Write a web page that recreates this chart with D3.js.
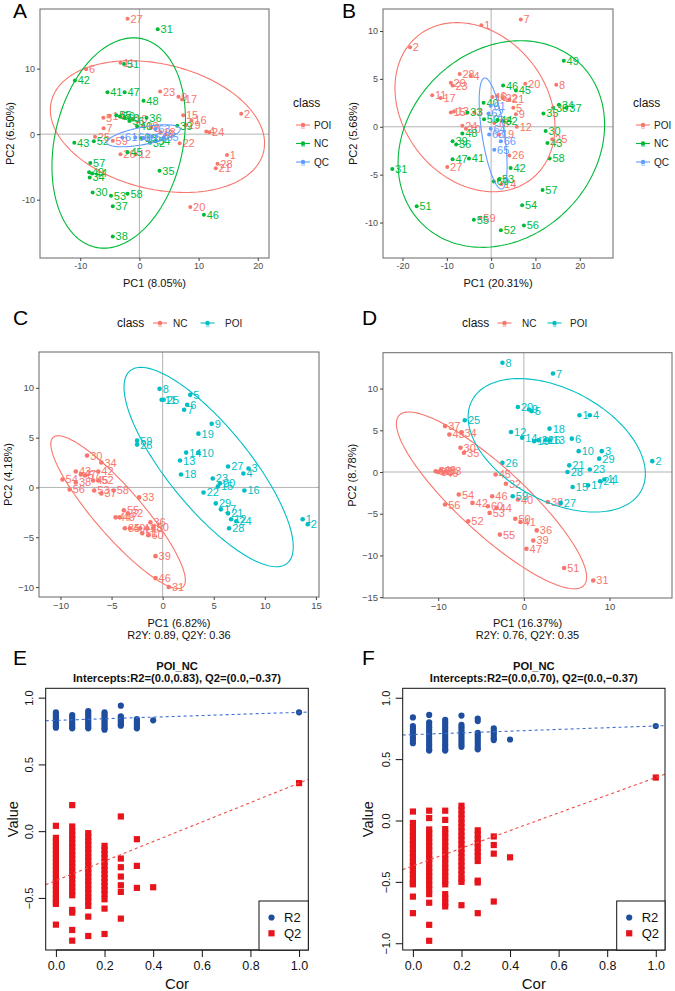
<!DOCTYPE html>
<html><head><meta charset="utf-8">
<script src="https://cdn.jsdelivr.net/npm/d3@7"></script>
<style>body{margin:0;background:#fff}svg text{font-family:"Liberation Sans",Arial,Helvetica,sans-serif}</style>
</head><body><svg id="c" width="675" height="991"></svg>
<script>
// ---------- Panel A (PCA, 3 classes) ----------
const aPOI=[["1",14.8,-3.2],["2",17.2,3.1],["3",2.0,1.0],["4",11.3,0.4],["5",-6.1,2.5],["6",-9.0,9.9],["7",-6.05,0.9],["8",4.4,0.0],["9",6.6,5.7],["10",-1.2,2.3],["11",-3.2,10.9],["12",-0.6,-3.05],["14",-5.0,2.8],["15",7.4,2.9],["16",8.8,2.1],["17",7.2,5.3],["18",3.6,0.3],["19",0.7,1.2],["20",8.6,-11.1],["21",12.9,-5.2],["22",6.8,-1.4],["23",3.5,6.5],["24",11.8,0.3],["25",-7.5,-0.4],["26",-3.2,-3.05],["27",-2.0,17.6],["28",13.2,-4.5],["29",7.8,1.4],["59",-4.5,-1.0]];
const aNC=[["31",3.1,16.0],["42",-10.9,8.2],["51",-2.6,10.7],["41",-5.4,6.4],["47",-2.5,6.4],["48",0.7,5.1],["55",-3.9,2.9],["50",-3.3,2.7],["60",-2.5,2.5],["56",-1.7,2.0],["40",-0.4,1.2],["36",1.2,2.5],["39",6.4,1.3],["43",-11.0,-1.3],["52",-7.7,-1.1],["33",0.4,-0.6],["32",1.8,-1.3],["54",2.7,-1.1],["45",-2.0,-2.75],["35",3.4,-5.6],["57",-8.3,-4.4],["34",-8.4,-6.6],["44",-8.0,-6.0],["49",-8.5,-5.8],["30",-7.9,-8.9],["53",-4.8,-9.4],["58",-2.0,-9.1],["37",-4.5,-11.0],["38",-4.5,-15.6],["46",10.9,-12.3]];
const aQC=[["61",-2.9,-0.5],["66",-0.7,-0.5],["62",0.7,-0.6],["63",2.7,0.8],["64",2.15,-0.4],["65",4.1,-0.5]];
const aXTicks=[-10,0,10,20], aYTicks=[-10,0,10];
// ellipse: centre, two conjugate semi-axes (data units)
const aEllPOI=[[3.05,1.15],[18.1,-2.55],[0,9.72]];
const aEllNC=[[-3.5,-1.35],[2.5,16.05],[11.0,0]];
const aEllQC=[[0.7,-0.25],[6.2,1.0],[0,1.35]];

// ---------- Panel B ----------
const bPOI=[["1",-2.2,10.6],["2",-18.3,8.3],["3",-3.8,1.5],["4",-4.6,5.3],["5",5.0,2.0],["6",1.4,3.2],["7",6.7,11.2],["8",14.7,4.4],["9",5.6,1.3],["10",-5.7,-0.2],["11",-13.3,3.3],["12",5.8,0.0],["13",-8.4,1.6],["14",2.3,-6.0],["15",-9.1,1.5],["16",0.3,3.1],["17",-11.4,3.0],["18",0.7,0.4],["19",1.8,-0.8],["20",7.7,4.5],["21",4.1,2.85],["22",2.6,3.0],["23",-8.7,4.3],["24",-6.5,0.1],["25",13.8,-1.3],["26",4.1,-3.0],["27",-9.9,-4.2],["28",-7.1,5.5],["29",-9.1,4.6],["59",-2.4,-9.5]];
const bNC=[["30",12.3,-0.45],["31",-22.3,-4.4],["32",2.6,0.6],["33",-5.35,1.5],["34",15.3,2.3],["35",11.8,1.4],["36",-7.9,-1.85],["37",17.0,2.0],["38",14.0,2.0],["39",-8.7,-1.5],["40",-1.7,2.5],["41",-5.0,-3.3],["42",4.4,-4.3],["43",12.7,-1.7],["44",1.4,0.7],["45",5.6,3.8],["46",2.7,4.3],["47",-8.7,-3.4],["48",-6.5,-0.7],["49",16.4,6.9],["50",-1.6,0.8],["51",-16.8,-8.3],["52",2.2,-10.8],["53",1.8,-5.5],["54",7.0,-8.2],["55",-3.9,-9.7],["56",7.4,-10.3],["57",11.6,-6.6],["58",13.2,-3.3],["60",0.6,-5.7]];
const bQC=[["61",-0.1,2.2],["62",-0.6,1.4],["63",-0.45,-0.8],["64",-0.1,-0.2],["65",0.7,-2.4],["66",2.2,-1.5]];
const bXTicks=[-20,-10,0,10,20], bYTicks=[-10,-5,0,5,10];
const bEllPOI=[[-3.65,2.05],[18.05,-2.0],[0,8.6]];
const bEllNC=[[2.3,-1.8],[23.3,2.0],[0,10.6]];
const bEllQC=[[0.45,-0.7],[-1.85,5.8],[2.55,0]];

// ---------- Panel C (PLS-DA) ----------
const cNC=[["30",-7.4,3.2],["34",-6.0,2.5],["43",-8.5,1.6],["47",-8.0,1.3],["42",-6.3,1.6],["54",-9.8,0.8],["57",-7.6,1.2],["38",-8.5,0.5],["56",-9.1,-0.2],["45",-6.8,0.7],["52",-6.3,0.7],["53",-6.7,-0.3],["37",-6.0,-0.6],["58",-4.8,-0.3],["33",-2.3,-1.0],["55",-3.8,-2.3],["32",-3.4,-2.6],["49",-4.2,-3.0],["44",-4.6,-3.0],["36",-1.2,-3.5],["35",-3.7,-4.1],["40",-3.2,-4.1],["41",-2.2,-4.1],["48",-1.5,-4.1],["50",-0.9,-4.0],["51",-2.0,-4.6],["60",-1.4,-4.8],["39",-0.7,-6.9],["46",-0.7,-9.1],["31",0.6,-10.0]];
const cPOI=[["1",13.7,-3.2],["2",14.2,-3.7],["3",8.4,1.9],["4",7.9,1.4],["5",2.7,9.3],["6",2.4,8.3],["7",2.1,7.8],["8",-0.3,9.9],["9",4.8,6.4],["10",3.5,3.5],["11",-0.1,8.8],["12",6.7,-3.2],["13",1.7,2.7],["14",2.3,3.5],["15",5.4,0.1],["16",8.0,-0.3],["17",5.7,-2.2],["18",1.8,1.3],["19",3.5,5.4],["20",5.6,0.4],["21",6.4,-2.6],["22",4.0,-0.5],["23",4.9,0.9],["24",7.2,-3.4],["25",0.1,8.8],["26",-2.5,4.3],["27",6.4,2.1],["28",6.5,-4.1],["29",5.2,-1.6],["59",-2.5,4.7]];
const cXTicks=[-10,-5,0,5,10,15], cYTicks=[-10,-5,0,5,10];
const cEllNC=[[-4.36,-2.48],[6.58,-6.83],[0,3.49]];
const cEllPOI=[[4.5,2.05],[8.28,-8.01],[0,6.0]];

// ---------- Panel D ----------
const dNC=[["37",-9.2,5.5],["43",-8.7,4.5],["34",-7.3,4.7],["30",-7.4,2.9],["35",-7.0,2.3],["57",-10.3,0.1],["58",-10.0,0.0],["48",-9.7,0.2],["49",-9.4,-0.1],["33",-9.1,0.1],["45",-3.3,-0.3],["32",-2.1,-1.4],["54",-7.6,-2.7],["46",-3.7,-2.9],["56",-9.2,-3.9],["42",-6.0,-3.7],["60",-4.2,-4.1],["44",-3.2,-4.3],["53",-4.0,-4.9],["40",-0.7,-3.3],["38",2.8,-3.6],["52",-6.5,-5.9],["50",-1.0,-5.6],["41",-0.4,-6.0],["55",-2.8,-7.5],["36",1.5,-7.0],["39",1.1,-8.2],["47",0.3,-9.2],["51",4.7,-11.5],["31",8.1,-13.0]];
const dPOI=[["8",-2.5,13.1],["7",3.4,11.8],["20",-0.7,7.8],["9",0.6,7.5],["5",0.9,7.3],["1",6.5,6.8],["4",7.7,6.8],["25",-6.9,6.2],["18",3.0,5.2],["12",-1.5,4.8],["6",5.6,4.0],["14",-0.2,4.1],["19",1.2,3.7],["22",1.7,3.8],["16",2.5,3.8],["13",3.0,3.8],["10",6.4,2.5],["3",9.1,2.5],["29",8.8,1.6],["2",15.0,1.3],["26",-2.5,1.1],["21",5.3,0.8],["28",5.1,0.0],["23",7.7,0.3],["15",5.7,-1.8],["17",7.5,-1.6],["24",8.9,-1.1],["11",9.4,-0.9],["59",-1.3,-2.9],["27",4.3,-3.7]];
const dXTicks=[-10,0,10], dYTicks=[-15,-10,-5,0,5,10];
const dEllNC=[[-3.78,-3.4],[11.11,-9.2],[0,5.26]];
const dEllPOI=[[3.84,3.2],[10.35,-3.4],[0,7.24]];

// ---------- Panels E, F (permutation tests) ----------
const permCor=[0,0.067,0.133,0.2,0.267,0.333,0.4,1.0];
const eR2=[[0.89,0.875,0.86,0.845,0.83,0.815,0.80,0.785,0.775],[0.87,0.855,0.84,0.825,0.81,0.795,0.78,0.77],[0.90,0.885,0.87,0.855,0.84,0.825,0.81,0.795,0.78,0.77],[0.89,0.875,0.86,0.845,0.83,0.815,0.80,0.785,0.77,0.76],[0.94,0.86,0.845,0.83,0.815,0.80,0.79],[0.84,0.825,0.81,0.795,0.78,0.77],[0.83],[0.89]];
const eQ2=[[0.04,-0.05,-0.08,-0.11,-0.14,-0.17,-0.20,-0.23,-0.26,-0.29,-0.32,-0.35,-0.38,-0.41,-0.44,-0.47,-0.50,-0.53,-0.545,-0.70],[0.195,0.035,0.0,-0.03,-0.06,-0.09,-0.12,-0.15,-0.18,-0.21,-0.24,-0.27,-0.30,-0.33,-0.36,-0.39,-0.42,-0.45,-0.48,-0.59,-0.61,-0.74,-0.82],[-0.015,-0.045,-0.075,-0.105,-0.135,-0.165,-0.195,-0.225,-0.255,-0.285,-0.315,-0.345,-0.375,-0.405,-0.435,-0.465,-0.495,-0.525,-0.56,-0.64,-0.785],[-0.11,-0.14,-0.17,-0.20,-0.23,-0.26,-0.29,-0.32,-0.35,-0.38,-0.41,-0.44,-0.47,-0.51,-0.58,-0.77],[0.11,-0.205,-0.27,-0.34,-0.405,-0.455,-0.655],[-0.06,-0.26,-0.425],[-0.42],[0.36]];
const eFitR2=[0.83,0.06], eFitQ2=[-0.37,0.73];
const fR2=[[0.84,0.77,0.75,0.73,0.71,0.69,0.67,0.65,0.63],[0.86,0.80,0.78,0.76,0.74,0.72,0.70,0.68,0.66,0.64,0.62,0.60,0.58,0.57],[0.82,0.80,0.78,0.76,0.74,0.72,0.70,0.68,0.66,0.64,0.62,0.60,0.58,0.57],[0.855,0.78,0.76,0.74,0.72,0.70,0.68,0.66,0.64,0.62,0.60],[0.83,0.81,0.715,0.695,0.675,0.655,0.635,0.615,0.595,0.58],[0.75,0.73,0.71,0.69,0.67,0.655],[0.66],[0.77]];
const fQ2=[[0.073,-0.02,-0.055,-0.09,-0.125,-0.16,-0.195,-0.23,-0.265,-0.30,-0.335,-0.37,-0.405,-0.44,-0.475,-0.51,-0.52,-0.62,-0.755],[0.08,0.02,-0.073,-0.105,-0.14,-0.175,-0.21,-0.245,-0.28,-0.315,-0.35,-0.385,-0.42,-0.455,-0.49,-0.525,-0.56,-0.60,-0.67,-0.85,-0.98],[0.08,0.005,-0.07,-0.105,-0.14,-0.175,-0.21,-0.245,-0.28,-0.315,-0.35,-0.385,-0.42,-0.455,-0.49,-0.52,-0.60,-0.635,-0.67,-0.70],[0.12,0.085,0.05,0.015,-0.02,-0.055,-0.09,-0.125,-0.16,-0.195,-0.23,-0.265,-0.30,-0.335,-0.37,-0.405,-0.44,-0.475,-0.50,-0.69],[-0.08,-0.115,-0.15,-0.185,-0.22,-0.255,-0.29,-0.33,-0.49,-0.505,-0.755],[-0.13,-0.20,-0.27,-0.66],[-0.30],[0.35]];
const fFitR2=[0.70,0.07], fFitQ2=[-0.37,0.72];
const permXTicks=[0,0.2,0.4,0.6,0.8,1.0];
const eYTicks=[-0.5,0,0.5,1.0], fYTicks=[-1.0,-0.5,0,0.5,1.0];

// ---------- colours ----------
const RED="#F8766D", GRN="#00BA38", BLU="#619CFF", TEAL="#00BFC4";
const R2COL="#1F4E9F", Q2COL="#E8141B", R2LINE="#3F6FD0", Q2LINE="#F04A44";

const svg=d3.select("#c");
let clipId=0;

function fmtTick(minus){return d=>{let s=String(d);return minus? s.replace("-","\u2212"):s;};}

function pca(cfg){
  const [x0,y0,x1,y1]=cfg.rect;
  const x=d3.scaleLinear().domain(cfg.xd).range([x0,x1]);
  const y=d3.scaleLinear().domain(cfg.yd).range([y1,y0]);
  const g=svg.append("g");
  const id="clip"+(clipId++);
  g.append("clipPath").attr("id",id).append("rect").attr("x",x0).attr("y",y0).attr("width",x1-x0).attr("height",y1-y0);
  const p=g.append("g").attr("clip-path",`url(#${id})`);
  p.append("line").attr("x1",x(0)).attr("x2",x(0)).attr("y1",y0).attr("y2",y1).attr("stroke","#b3b3b3").attr("stroke-width",1);
  p.append("line").attr("y1",y(0)).attr("y2",y(0)).attr("x1",x0).attr("x2",x1).attr("stroke","#b3b3b3").attr("stroke-width",1);
  cfg.groups.forEach(gr=>{
    p.selectAll(null).data(gr.data).enter().append("circle")
      .attr("cx",d=>x(d[1])).attr("cy",d=>y(d[2])).attr("r",cfg.r).attr("fill",gr.color);
    p.selectAll(null).data(gr.data).enter().append("text")
      .attr("x",d=>x(d[1])+cfg.r+0.8).attr("y",d=>y(d[2])).attr("dy","0.36em")
      .attr("font-size",cfg.lab).attr("fill",gr.color).text(d=>d[0]);
  });
  const line=d3.line().x(d=>x(d[0])).y(d=>y(d[1])).curve(d3.curveLinearClosed);
  cfg.ellipses.forEach(e=>{
    const [c,u,v]=e.p;
    const pts=d3.range(0,2*Math.PI,Math.PI/90).map(t=>[c[0]+u[0]*Math.cos(t)+v[0]*Math.sin(t),c[1]+u[1]*Math.cos(t)+v[1]*Math.sin(t)]);
    p.append("path").attr("d",line(pts)).attr("fill","none").attr("stroke",e.color).attr("stroke-width",1.1);
  });
  g.append("rect").attr("x",x0).attr("y",y0).attr("width",x1-x0).attr("height",y1-y0).attr("fill","none").attr("stroke","#666").attr("stroke-width",1);
  const ax=g.append("g").attr("transform",`translate(0,${y1})`).call(d3.axisBottom(x).tickValues(cfg.xt).tickSize(3).tickPadding(2).tickFormat(fmtTick(cfg.minus)));
  const ay=g.append("g").attr("transform",`translate(${x0},0)`).call(d3.axisLeft(y).tickValues(cfg.yt).tickSize(3).tickPadding(2).tickFormat(fmtTick(cfg.minus)));
  [ax,ay].forEach(a=>{a.select(".domain").remove();a.selectAll("line").attr("stroke","#444");a.selectAll("text").attr("fill","#4d4d4d").attr("font-size",cfg.tick).attr("font-family","Liberation Sans, Arial, sans-serif");});
  // titles
  g.append("text").attr("x",(x0+x1)/2).attr("y",cfg.xtY).attr("text-anchor","middle").attr("font-size",11).attr("fill","#111").text(cfg.xt1);
  if(cfg.xt2) g.append("text").attr("x",(x0+x1)/2).attr("y",cfg.xtY+12).attr("text-anchor","middle").attr("font-size",11).attr("fill","#111").text(cfg.xt2);
  g.append("text").attr("transform",`translate(${cfg.ytX},${(y0+y1)/2}) rotate(-90)`).attr("text-anchor","middle").attr("font-size",11).attr("fill","#111").text(cfg.yt1);
}

function legendKey(x,y,color){
  svg.append("line").attr("x1",x-7).attr("x2",x+7).attr("y1",y).attr("y2",y).attr("stroke",color).attr("stroke-width",1.1);
  svg.append("circle").attr("cx",x).attr("cy",y).attr("r",2.2).attr("fill",color);
  svg.append("text").attr("x",x).attr("y",y+3.5).attr("text-anchor","middle").attr("font-size",7).attr("fill",color).attr("opacity",0.7).text("a");
}
function vLegend(x,yTop,items){
  svg.append("text").attr("x",x).attr("y",yTop).attr("font-size",12).attr("fill","#111").text("class");
  items.forEach((it,i)=>{const yy=yTop+18+i*18.5;legendKey(x+10,yy,it[1]);
    svg.append("text").attr("x",x+21).attr("y",yy).attr("dy","0.36em").attr("font-size",10).attr("fill","#222").text(it[0]);});
}
function hLegend(x,y,items,offs){
  svg.append("text").attr("x",x).attr("y",y+4).attr("font-size",12).attr("fill","#111").text("class");
  items.forEach((it,i)=>{legendKey(offs[i][0],y,it[1]);
    svg.append("text").attr("x",offs[i][1]).attr("y",y).attr("dy","0.36em").attr("font-size",10).attr("fill","#222").text(it[0]);});
}

// Panel A
pca({rect:[40,9,269,258],xd:[-16.8,21.9],yd:[-18.9,19.1],xt:aXTicks,yt:aYTicks,r:2,lab:11,tick:9,minus:false,
  groups:[{data:aPOI,color:RED},{data:aNC,color:GRN},{data:aQC,color:BLU}],
  ellipses:[{p:aEllPOI,color:RED},{p:aEllNC,color:GRN},{p:aEllQC,color:BLU}],
  xtY:287,xt1:"PC1 (8.05%)",ytX:14,yt1:"PC2 (6.50%)"});
vLegend(293,107,[["POI",RED],["NC",GRN],["QC",BLU]]);
// Panel B
pca({rect:[383,9,613,258],xd:[-24.4,27.5],yd:[-13.7,12.3],xt:bXTicks,yt:bYTicks,r:2,lab:11,tick:9,minus:false,
  groups:[{data:bPOI,color:RED},{data:bNC,color:GRN},{data:bQC,color:BLU}],
  ellipses:[{p:bEllPOI,color:RED},{p:bEllNC,color:GRN},{p:bEllQC,color:BLU}],
  xtY:287,xt1:"PC1 (20.31%)",ytX:357,yt1:"PC2 (5.68%)"});
vLegend(633,107,[["POI",RED],["NC",GRN],["QC",BLU]]);
// Panel C
pca({rect:[39,352,319,597],xd:[-12.1,15.3],yd:[-11.0,13.6],xt:cXTicks,yt:cYTicks,r:2.3,lab:11,tick:9.5,minus:true,
  groups:[{data:cNC,color:RED},{data:cPOI,color:TEAL}],
  ellipses:[{p:cEllNC,color:RED},{p:cEllPOI,color:TEAL}],
  xtY:627,xt1:"PC1 (6.82%)",xt2:"R2Y: 0.89, Q2Y: 0.36",ytX:12,yt1:"PC2 (4.18%)"});
hLegend(117,323,[["NC",RED],["POI",TEAL]],[[160,173],[207.5,225]]);
// Panel D
pca({rect:[383,352.7,672,598],xd:[-16.45,17.3],yd:[-15.1,14.3],xt:dXTicks,yt:dYTicks,r:2.3,lab:11,tick:9.5,minus:true,
  groups:[{data:dNC,color:RED},{data:dPOI,color:TEAL}],
  ellipses:[{p:dEllNC,color:RED},{p:dEllPOI,color:TEAL}],
  xtY:627,xt1:"PC1 (16.37%)",xt2:"R2Y: 0.76, Q2Y: 0.35",ytX:356,yt1:"PC2 (8.78%)"});
hLegend(462,323,[["NC",RED],["POI",TEAL]],[[504.5,522],[554.5,570]]);

function perm(cfg){
  const [x0,y0,x1,y1]=cfg.rect;
  const x=d3.scaleLinear().domain([-0.042,1.038]).range([x0,x1]);
  const y=d3.scaleLinear().domain(cfg.yd).range([y1,y0]);
  const g=svg.append("g");
  const id="clip"+(clipId++);
  g.append("clipPath").attr("id",id).append("rect").attr("x",x0).attr("y",y0).attr("width",x1-x0).attr("height",y1-y0);
  const p=g.append("g").attr("clip-path",`url(#${id})`);
  const r2pts=[],q2pts=[];
  permCor.forEach((c,i)=>{cfg.r2[i].forEach(v=>r2pts.push([c,v]));cfg.q2[i].forEach(v=>q2pts.push([c,v]));});
  p.selectAll(null).data(r2pts).enter().append("circle").attr("cx",d=>x(d[0])).attr("cy",d=>y(d[1])).attr("r",3.1).attr("fill",R2COL);
  p.selectAll(null).data(q2pts).enter().append("rect").attr("x",d=>x(d[0])-3.1).attr("y",d=>y(d[1])-3.1).attr("width",6.2).attr("height",6.2).attr("fill",Q2COL);
  [[cfg.fr2,R2LINE],[cfg.fq2,Q2LINE]].forEach(([f,col])=>{
    p.append("line").attr("x1",x(-0.042)).attr("y1",y(f[0]+f[1]*-0.042)).attr("x2",x(1.038)).attr("y2",y(f[0]+f[1]*1.038))
      .attr("stroke",col).attr("stroke-width",1.1).attr("stroke-dasharray","3,3");
  });
  g.append("rect").attr("x",x0).attr("y",y0).attr("width",x1-x0).attr("height",y1-y0).attr("fill","none").attr("stroke","#111").attr("stroke-width",1);
  const ax=g.append("g").attr("transform",`translate(0,${y1})`).call(d3.axisBottom(x).tickValues(permXTicks).tickSize(7).tickPadding(4).tickFormat(d3.format(".1f")));
  ax.select(".domain").attr("d",`M${x(0)},0H${x(1)}`).attr("stroke","#111");
  ax.selectAll("line").attr("stroke","#111");
  ax.selectAll("text").attr("font-size",12.5).attr("fill","#111").attr("font-family","Liberation Sans, Arial, sans-serif");
  const ay=g.append("g").attr("transform",`translate(${x0},0)`).call(d3.axisLeft(y).tickValues(cfg.yt).tickSize(7).tickFormat(d=>d3.format(".1f")(d).replace("-","\u2212")));
  ay.select(".domain").remove();
  ay.selectAll("line").attr("stroke","#111");
  ay.selectAll("text").attr("transform","rotate(-90)").attr("x",0).attr("y",-12.5).attr("dy",0).attr("text-anchor","middle")
    .attr("font-size",11).attr("fill","#111").attr("font-family","Liberation Sans, Arial, sans-serif");
  g.append("text").attr("x",(x0+x1)/2).attr("y",669.5).attr("text-anchor","middle").attr("font-size",11.2).attr("font-weight","bold").attr("fill","#111").text("POI_NC");
  g.append("text").attr("x",(x0+x1)/2).attr("y",682).attr("text-anchor","middle").attr("font-size",11.2).attr("font-weight","bold").attr("fill","#111").text(cfg.title);
  g.append("text").attr("x",(x0+x1)/2).attr("y",989).attr("text-anchor","middle").attr("font-size",15).attr("fill","#111").text("Cor");
  g.append("text").attr("transform",`translate(${cfg.valX},${(y0+y1)/2}) rotate(-90)`).attr("text-anchor","middle").attr("font-size",14.5).attr("fill","#111").text("Value");
  // legend
  const lx=cfg.leg[0], ly=901;
  g.append("rect").attr("x",lx).attr("y",ly).attr("width",x1-lx).attr("height",y1-ly).attr("fill","#fff").attr("stroke","#111").attr("stroke-width",1);
  g.append("circle").attr("cx",lx+12.5).attr("cy",917.5).attr("r",3.1).attr("fill",R2COL);
  g.append("rect").attr("x",lx+9.4).attr("y",930.2).attr("width",6.2).attr("height",6.2).attr("fill",Q2COL);
  g.append("text").attr("x",lx+25).attr("y",917.5).attr("dy","0.36em").attr("font-size",13).attr("fill","#111").text("R2");
  g.append("text").attr("x",lx+25).attr("y",933.3).attr("dy","0.36em").attr("font-size",13).attr("fill","#111").text("Q2");
}
perm({rect:[45.7,688.3,308.3,950],yd:[-0.89,1.07],yt:eYTicks,r2:eR2,q2:eQ2,fr2:eFitR2,fq2:eFitQ2,
  title:"Intercepts:R2=(0.0,0.83), Q2=(0.0,\u22120.37)",valX:18,leg:[259]});
perm({rect:[402.7,688.3,665,950],yd:[-1.055,1.077],yt:fYTicks,r2:fR2,q2:fQ2,fr2:fFitR2,fq2:fFitQ2,
  title:"Intercepts:R2=(0.0,0.70), Q2=(0.0,\u22120.37)",valX:373,leg:[616.7]});

// panel letters
[["A",13,18],["B",342,18],["C",13,325],["D",362,325],["E",13,665],["F",362,665]].forEach(d=>{
  svg.append("text").attr("x",d[1]).attr("y",d[2]).attr("font-size",21).attr("fill","#000").text(d[0]);
});
</script></body></html>
